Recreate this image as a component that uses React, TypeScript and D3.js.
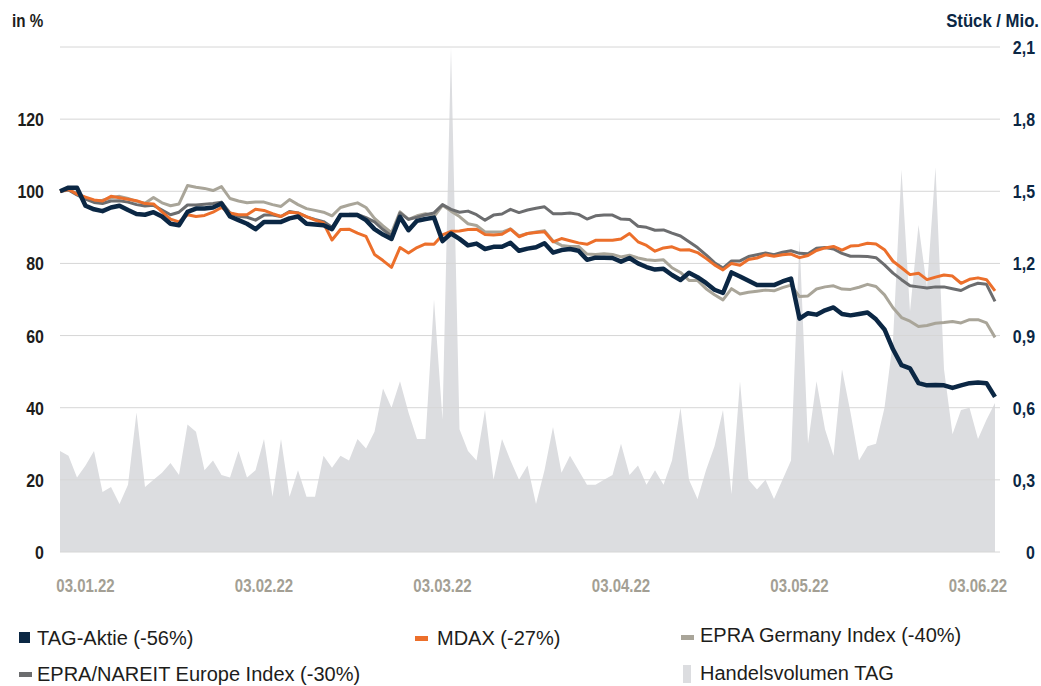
import React from "react";
import * as d3 from "d3";

// trading-day series, indexed 0..110 (03.01.22 – ~07.06.22)
const tagAktie = [
  100, 101, 101, 96, 95, 94.5, 95.5, 96, 94.8, 93.7, 93.5, 94.2, 93, 91, 90.6, 94.3, 95.2, 95.2, 95.5, 96.6,
  93, 92, 91, 89.5, 91.5, 91.5, 91.5, 92.5, 93, 91, 90.8, 90.6, 89.5, 93.4, 93.4, 93.4, 92, 89.5, 88, 86.8,
  92.9, 89.2, 91.8, 92.3, 92.7, 86.2, 88.3, 86.8, 85, 85.5, 84, 84.6, 84.6, 85.7, 83.5, 84.1, 84.5, 85.6, 83, 83.7,
  84, 83.5, 81, 81.6, 81.6, 81.5, 80.5, 81.5, 80, 79, 78.3, 78.5, 76.8, 75.4, 77.4, 76.2, 74.6, 72.7, 71.8, 77.5,
  76.4, 75.2, 74, 74, 74, 75, 75.8, 64.7, 66.2, 65.8, 67, 67.8, 66, 65.6, 66, 66.4, 64.5, 61.7, 56.2, 51.8,
  50.9, 46.8, 46.2, 46.3, 46.2, 45.5, 46.2, 46.8, 47, 46.8, 43,
];
const mdax = [
  100, 100.5, 99.2, 98.4, 97.6, 97.3, 98.6, 98.2, 97.8, 97.4, 96.6, 96.5, 94.3, 92.3, 91.5, 93.5, 93, 93.3, 94.2, 95.5,
  94, 93.5, 93.5, 95, 94.7, 93.8, 93, 94.2, 94, 93, 92, 91.2, 86.5, 89.4, 89.5, 88.4, 87.5, 82.5, 80.8, 78.9,
  84.4, 82.9, 84.4, 85.4, 85.3, 87.9, 88.9, 89, 89.4, 89.5, 88, 87.9, 88.1, 89.5, 87.4, 88.3, 88.6, 88.8, 86, 86.9,
  86.3, 85.7, 85.3, 86.4, 86.4, 86.4, 86.8, 88.3, 86, 85, 83.4, 84.3, 84.6, 83.7, 83.8, 83, 81.4, 79.6, 78.2, 80,
  79.5, 81.1, 81.5, 82.4, 82, 82.4, 82.6, 81.6, 82.2, 83.6, 84.3, 84.7, 83.7, 84.8, 85, 85.6, 85.4, 83.8, 80.6, 78.8,
  76.9, 77.3, 75.5, 76.2, 76.8, 76.5, 74.5, 75.6, 76, 75.5, 72.4,
];
const epraGermany = [
  100, 100.3, 99.5, 98.2, 97.2, 97.5, 98.2, 98.6, 98, 97.2, 96.7, 98.3, 96.8, 96, 96.5, 101.6, 101.1, 100.8, 100.2, 101.3,
  98, 97.3, 96.8, 97, 97, 96.3, 95.8, 97.7, 96.3, 95.2, 94.7, 94.2, 93.2, 95.5, 96.2, 96.8, 95.5, 92.5, 90.4, 88.5,
  94.3, 92.2, 93.2, 93.8, 93, 96.1, 94.5, 93, 91, 90.5, 88.7, 88.7, 88.7, 89.6, 87.6, 88.3, 88.7, 89.1, 86.2, 85,
  84.7, 84.7, 82.6, 82.5, 82.7, 82.5, 81.8, 82.3, 81.5, 81, 80.8, 81, 78.8, 77.5, 75.3, 75.3, 73, 71.3, 69.9, 73,
  71.5, 72, 72.3, 72.6, 72.4, 73.3, 74, 70.8, 71, 72.9, 73.5, 73.8, 72.9, 72.8, 73.4, 74.2, 73.6, 71.3, 67.7, 65,
  64, 62.5, 62.8, 63.4, 63.6, 63.9, 63.5, 64.4, 64.4, 63.5, 59.5,
];
const epraNareit = [
  100, 100.4, 99, 97.8, 96.9, 96.6, 97.3, 97.4, 97, 96.3, 95.9, 96.1, 94.8, 93.5, 94.2, 96.2, 96.2, 96.4, 96.6, 97,
  94, 93.1, 92.8, 92, 93.4, 93.4, 93, 94.4, 94, 92.9, 92.2, 91.6, 90, 93.3, 93.6, 93.6, 92.7, 91.5, 89.4, 87.6,
  94, 92.2, 92.8, 93.5, 94, 96.3, 95, 94.2, 94.5, 93.5, 92, 93.4, 93.7, 95, 94.1, 94.8, 95.3, 95.7, 93.8, 93.8,
  94, 93.6, 92.3, 93.2, 93.4, 93.4, 92.3, 92.2, 90.3, 90, 89.2, 89.3, 88.4, 87.6, 86, 84.4, 82.4, 80.2, 78.7, 80.7,
  80.7, 81.9, 82.4, 82.9, 82.4, 83.1, 83.5, 82.8, 82.7, 84.2, 84.4, 84, 82.8, 82, 82, 81.9, 81.6, 79.6, 77.3, 75.5,
  73.8, 73.5, 73.2, 73.5, 73.5, 73, 72.5, 73.7, 74.5, 74.2, 69.5,
];
// Handelsvolumen TAG in Mio. Stück
const volumen = [
  0.42, 0.4, 0.31, 0.36, 0.42, 0.25, 0.27, 0.2, 0.28, 0.58, 0.27, 0.3, 0.33, 0.37, 0.32, 0.53, 0.5, 0.34, 0.38, 0.32,
  0.31, 0.42, 0.31, 0.34, 0.47, 0.23, 0.47, 0.23, 0.34, 0.23, 0.23, 0.4, 0.35, 0.4, 0.38, 0.47, 0.43, 0.5, 0.68, 0.6,
  0.71, 0.58, 0.47, 0.47, 1.05, 0.55, 2.1, 0.51, 0.42, 0.38, 0.59, 0.3, 0.47, 0.38, 0.3, 0.36, 0.2, 0.34, 0.52, 0.33,
  0.4, 0.34, 0.28, 0.28, 0.3, 0.32, 0.45, 0.32, 0.36, 0.28, 0.34, 0.28, 0.38, 0.6, 0.3, 0.22, 0.34, 0.44, 0.59, 0.24,
  0.71, 0.3, 0.26, 0.3, 0.22, 0.3, 0.38, 1.3, 0.45, 0.71, 0.51, 0.4, 0.76, 0.58, 0.38, 0.44, 0.45, 0.6, 0.88, 1.59,
  1.0, 1.36, 1.1, 1.6, 0.76, 0.49, 0.59, 0.6, 0.47, 0.55, 0.62,
];

const xTickIndex = [3, 24, 45, 66, 87, 108];
const xTickLabels = ["03.01.22", "03.02.22", "03.03.22", "03.04.22", "03.05.22", "03.06.22"];
const leftTicks = [0, 20, 40, 60, 80, 100, 120, 140];
const rightTicks = [0, 0.3, 0.6, 0.9, 1.2, 1.5, 1.8, 2.1];

const W = 1041;
const H = 686;
const FONT = "'Liberation Sans', Arial, sans-serif";

const C_TAG = "#0b2744";
const C_MDAX = "#ec6f2b";
const C_GER = "#a9a599";
const C_NAR = "#6c6d6f";
const C_VOL = "#dcdde0";
const C_TXT = "#1d1d1b";

// condensed bold label: narrowed horizontally around its anchor point
const Cond = ({ x, y, sx = 0.84, anchor = "start", fill = C_TXT, size = 19, children }: any) => (
  <text
    transform={`translate(${x},${y}) scale(${sx},1)`}
    textAnchor={anchor}
    fontSize={size}
    fontWeight="bold"
    fill={fill}
  >
    {children}
  </text>
);

export default function App() {
  const x = d3.scaleLinear().domain([0, tagAktie.length - 1]).range([60, 995]);
  const yL = d3.scaleLinear().domain([0, 140]).range([552, 47]);
  const yR = d3.scaleLinear().domain([0, 2.1]).range([552, 47]);

  const line = (arr: number[]) =>
    d3.line<number>().x((_, i) => x(i)).y((d) => yL(d))(arr) || "";
  const area =
    d3.area<number>().x((_, i) => x(i)).y0(yR(0)).y1((d) => yR(d))(volumen) || "";

  const series = [
    { data: epraGermany, color: C_GER, w: 3 },
    { data: epraNareit, color: C_NAR, w: 3 },
    { data: mdax, color: C_MDAX, w: 3 },
    { data: tagAktie, color: C_TAG, w: 4.5 },
  ];

  const fmtR = (v: number) => (v === 0 ? "0" : d3.format(".1f")(v).replace(".", ","));

  return (
    <svg width={W} height={H} style={{ position: "absolute", left: 0, top: 0, background: "#fff" }} fontFamily={FONT}>
      <path d={area} fill={C_VOL} />
      {leftTicks.map((t) => (
        <line key={t} x1={60} x2={1000} y1={yL(t)} y2={yL(t)} stroke="#d6d6d6" strokeWidth={1} />
      ))}
      {series.map((s, k) => (
        <path key={k} d={line(s.data)} fill="none" stroke={s.color} strokeWidth={s.w} strokeLinejoin="round" />
      ))}
      {leftTicks.filter((t) => t < 140).map((t) => (
        <Cond key={t} x={44} y={yL(t) + 7} anchor="end">{t}</Cond>
      ))}
      {rightTicks.map((t) => (
        <Cond key={t} x={1035} y={yR(t) + 7} anchor="end" fill={C_TAG}>{fmtR(t)}</Cond>
      ))}
      <Cond x={12} y={27} sx={0.8}>in %</Cond>
      <Cond x={1039} y={27} anchor="end" fill={C_TAG} sx={0.88}>Stück / Mio.</Cond>
      {xTickIndex.map((t, i) => (
        <Cond key={t} x={x(t)} y={592} anchor="middle" fill="#a39f94" sx={0.79}>
          {xTickLabels[i]}
        </Cond>
      ))}
      {/* legend */}
      <g fontSize={20} fill={C_TXT}>
        <rect x={19} y={632} width={11} height={11} fill={C_TAG} />
        <text x={37} y={645}>TAG-Aktie (-56%)</text>
        <rect x={415} y={636} width={13} height={5} fill={C_MDAX} />
        <text x={437} y={645}>MDAX (-27%)</text>
        <rect x={681} y={635} width={13} height={5} fill={C_GER} />
        <text x={700} y={642}>EPRA Germany Index (-40%)</text>
        <rect x={19} y={672} width={13} height={5} fill={C_NAR} />
        <text x={37} y={681}>EPRA/NAREIT Europe Index (-30%)</text>
        <rect x={683} y={665} width={8} height={18} fill={C_VOL} />
        <text x={700} y={680}>Handelsvolumen TAG</text>
      </g>
    </svg>
  );
}
